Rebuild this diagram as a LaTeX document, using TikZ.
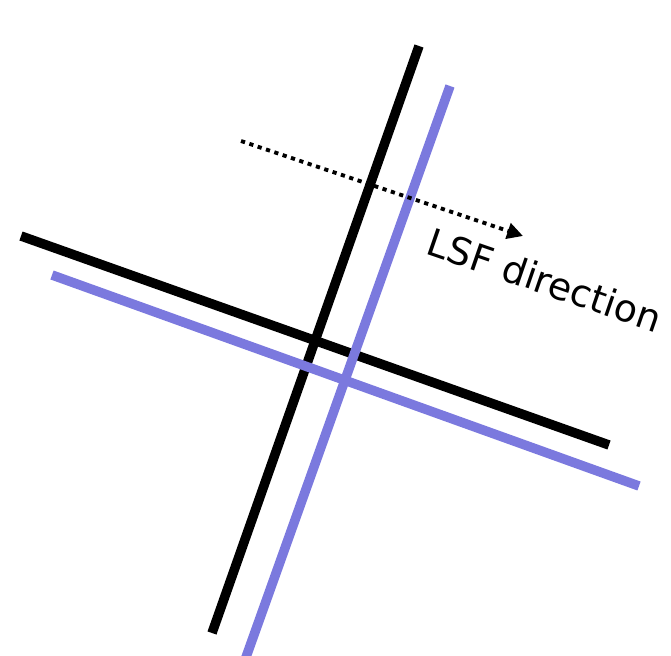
\documentclass[tikz,border=0pt]{standalone}
\usepackage{fontspec}
\setmainfont{DejaVu Sans}
\usepackage{tikz}
\usetikzlibrary{arrows.meta}
\definecolor{lsfblue}{HTML}{7B79DE}

\begin{document}
\begin{tikzpicture}[x=0.02cm,y=-0.02cm,
      edge/.style={line width=5.4pt},
      blueedge/.style={edge,draw=lsfblue},
      dirarrow/.style={line width=2.2pt,dash pattern=on 2.4pt off 2.6pt,
                       -{Triangle[length=9pt,width=9pt]}}]
    \useasboundingbox (0,0) rectangle (671,655);
    % black pair
    \coordinate (bTop) at (419,46);
    \coordinate (bBot) at (212,633);
    \coordinate (bLeft) at (21,236);
    \coordinate (bRight) at (609,445);
    % blue pair
    \coordinate (uTop) at (450,86);
    \coordinate (uBot) at (245,660);
    \coordinate (uLeft) at (52,275);
    \coordinate (uRight) at (639,486);
    \draw[edge] (bTop) -- (bBot);
    \draw[edge] (bLeft) -- (bRight);
    \draw[blueedge] (uTop) -- (uBot);
    \draw[blueedge] (uLeft) -- (uRight);
    % direction
    \coordinate (dStart) at (241,141);
    \coordinate (dEnd) at (523,236);
    \draw[dirarrow] (dStart) -- (dEnd);
    \node[rotate=-19,font=\fontsize{21.5}{25}\selectfont] (dirLabel) at (545,280) {LSF direction};
  \end{tikzpicture}
\end{document}
